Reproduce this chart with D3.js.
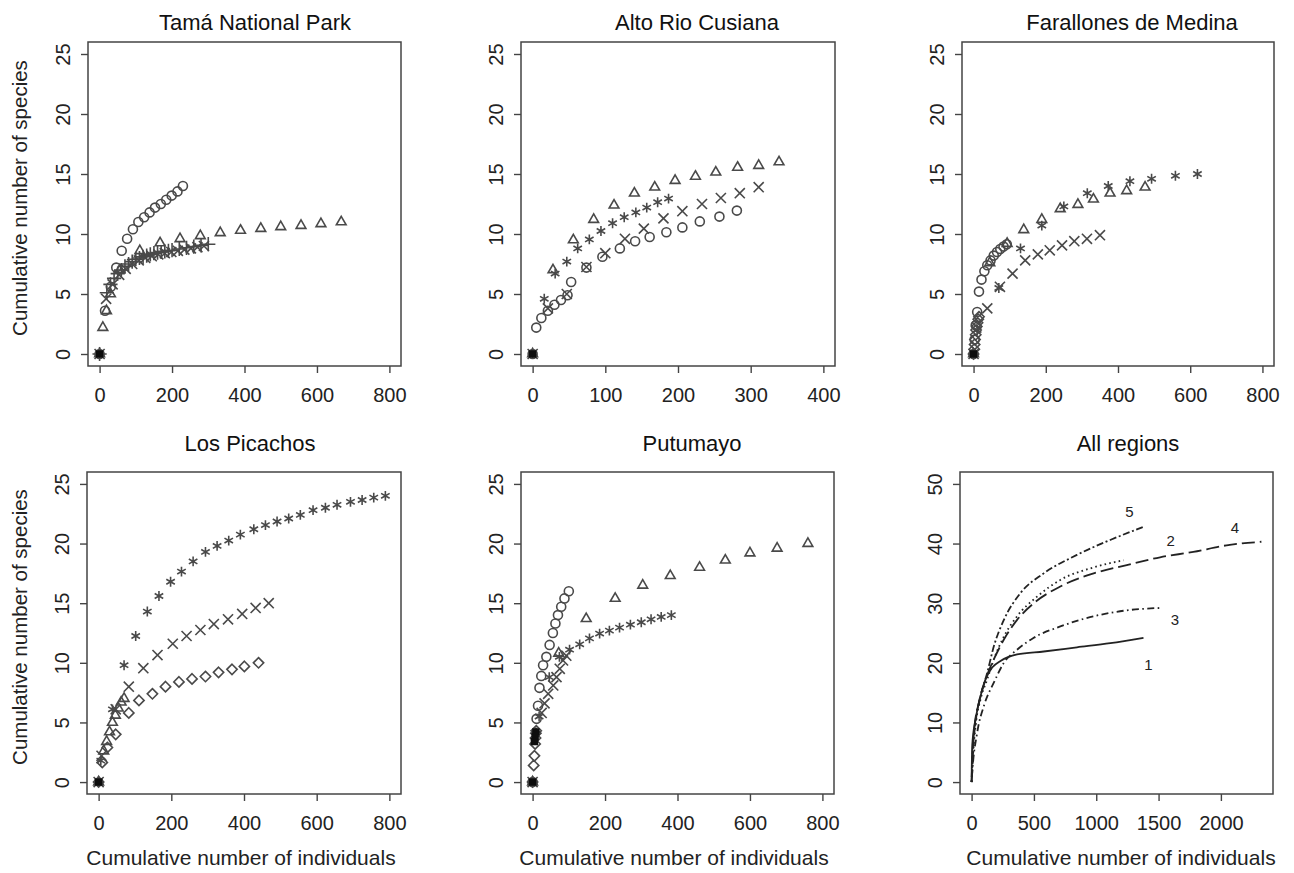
<!DOCTYPE html>
<html>
<head>
<meta charset="utf-8">
<script src="https://cdn.jsdelivr.net/npm/d3@7.9.0/dist/d3.min.js"></script>
<style>
  body { margin: 0; background: #fff; }
  svg { font-family: "Liberation Sans", Arial, Helvetica, sans-serif; }
</style>
</head>
<body>
<svg id="chart" width="1294" height="873"></svg>
<script>
// ---- data: [individuals, species] ----
const tamaCircles = [[0,0],[15,3.6],[31,5.6],[46,7.2],[61,8.6],[76,9.6],[92,10.4],[107,11.0],[123,11.4],[138,11.8],[153,12.2],[169,12.5],[184,12.85],[199,13.2],[215,13.55],[230,14]];
const tamaTriangles = [[0,0],[9,2.2],[19,3.6],[30,5.0],[56,7.0],[111,8.6],[167,9.25],[222,9.6],[278,9.85],[333,10.1],[389,10.3],[445,10.45],[500,10.6],[556,10.7],[611,10.85],[667,11.0]];
const tamaPlus = [[0,0],[20,5.1],[30,5.8],[40,6.3],[50,6.7],[60,7.0],[70,7.3],[80,7.5],[90,7.7],[100,7.9],[110,8.0],[120,8.1],[130,8.2],[140,8.3],[150,8.4],[160,8.45],[170,8.5],[180,8.55],[190,8.6],[200,8.65],[220,8.75],[240,8.85],[260,8.95],[280,9.05],[300,9.15]];
const tamaTimes = [[0,0],[18,4.6],[36,5.8],[54,6.6],[72,7.1],[90,7.5],[108,7.8],[126,8.0],[144,8.15],[162,8.3],[180,8.4],[198,8.5],[216,8.6],[234,8.7],[252,8.8],[270,8.9],[288,9.0]];

const altoTriangles = [[0,0],[28,7.0],[56,9.5],[84,11.2],[112,12.4],[140,13.4],[168,13.9],[196,14.45],[224,14.8],[252,15.15],[282,15.55],[311,15.7],[339,16.0]];
const altoAsterisks = [[0,0],[16,4.6],[31,6.7],[47,7.7],[62,8.8],[78,9.55],[94,10.25],[110,10.9],[126,11.4],[142,11.8],[157,12.2],[172,12.65],[187,12.95]];
const altoTimes = [[0,0],[21,3.8],[47,5.0],[74,7.25],[100,8.4],[127,9.6],[153,10.45],[180,11.3],[206,11.9],[233,12.5],[259,13.0],[285,13.4],[311,13.9]];
const altoCircles = [[0,0],[5,2.2],[12,3.0],[21,3.6],[30,4.1],[39,4.5],[48,4.9],[53,6.0],[74,7.2],[96,8.1],[120,8.8],[141,9.4],[161,9.75],[184,10.15],[206,10.55],[230,11.05],[257,11.45],[281,11.95]];

const farAsterisks = [[0,0],[10,2.0],[70,5.5],[130,8.8],[189,10.7],[250,12.3],[315,13.4],[373,14.0],[433,14.4],[493,14.6],[559,14.85],[620,15.0]];
const farTriangles = [[0,0],[45,7.6],[93,9.2],[139,10.35],[189,11.2],[240,12.1],[289,12.45],[332,12.9],[378,13.4],[424,13.6],[475,13.9]];
const farCircles = [[0,0],[3,1.2],[6,2.4],[10,3.5],[15,5.2],[22,6.2],[30,6.9],[38,7.4],[47,7.8],[56,8.2],[65,8.5],[74,8.75],[83,8.95],[92,9.15]];
const farTimes = [[0,0],[38,3.8],[73,5.6],[108,6.7],[143,7.8],[178,8.3],[211,8.64],[245,9.05],[279,9.4],[314,9.6],[350,9.9]];
const farDiamonds = [[0,0],[2,0.4],[3,0.8],[4,1.2],[6,1.6],[7,2.0],[9,2.3],[11,2.6],[13,2.9],[15,3.1]];

const picAsterisks = [[0,0],[6,1.8],[38,6.1],[70,9.8],[102,12.25],[134,14.3],[166,15.6],[198,16.8],[228,17.65],[260,18.5],[294,19.3],[326,19.8],[358,20.25],[390,20.75],[427,21.2],[459,21.55],[491,21.85],[523,22.1],[555,22.4],[590,22.8],[624,23.0],[656,23.25],[693,23.5],[725,23.65],[757,23.85],[789,24.0]];
const picTimes = [[0,0],[8,2.2],[47,6.1],[83,8.0],[123,9.55],[162,10.65],[204,11.6],[242,12.25],[280,12.75],[317,13.25],[356,13.65],[395,14.1],[432,14.6],[468,15.0]];
const picDiamonds = [[0,0],[10,1.65],[24,2.9],[47,4.0],[83,5.8],[111,6.85],[148,7.4],[184,8.0],[221,8.4],[257,8.65],[294,8.85],[330,9.2],[367,9.45],[401,9.7],[440,10.0]];
const picTriangles = [[0,0],[14,2.6],[22,3.4],[30,4.2],[38,5.0],[46,5.6],[54,6.2],[62,6.7],[70,7.0]];

const putTriangles = [[0,0],[72,10.8],[148,13.7],[228,15.4],[304,16.5],[380,17.3],[461,18.0],[532,18.6],[600,19.2],[675,19.6],[760,20.0]];
const putAsterisks = [[0,0],[18,5.5],[46,8.8],[74,10.5],[102,11.1],[130,11.55],[157,12.05],[185,12.45],[212,12.7],[240,12.95],[270,13.2],[300,13.4],[327,13.65],[355,13.85],[383,14.0]];
const putCircles = [[0,0],[11,5.3],[15,6.4],[19,7.9],[24,8.9],[29,9.8],[38,10.5],[47,11.5],[56,12.5],[63,13.3],[70,14.0],[79,14.7],[88,15.4],[100,16.0]];
const putTimes = [[0,0],[25,5.8],[33,6.6],[43,7.4],[57,8.1],[66,8.8],[75,9.5],[84,10.2],[93,10.6]];
const putDiamonds = [[0,0],[3,1.4],[5,2.2],[7,3.2],[8,3.7],[9,4.1],[10,4.3]];
const putSquares = [[5,3.4],[7,3.8],[9,4.2]];

const originPoint = [[0,0]];

const allTama = [[0,0],[5,6.1],[32,10.5],[59,13.3],[112,17.2],[165,19.2],[232,20.3],[365,21.4],[579,21.9],[845,22.6],[1112,23.3],[1379,24.2]];
const allAlto = [[0,0],[5,2.2],[32,9.4],[72,13.9],[125,17.2],[179,20.6],[259,24.4],[365,27.8],[525,31.1],[712,33.9],[979,36.0],[1219,37.2]];
const allFarallones = [[0,0],[5,1.6],[45,8.3],[99,12.8],[179,16.7],[259,20.0],[365,22.2],[499,24.2],[712,26.1],[979,27.8],[1245,28.8],[1512,29.2]];
const allPicachos = [[0,0],[5,1.7],[19,8.4],[59,13.4],[112,17.2],[179,20.6],[259,23.9],[365,27.2],[499,30.0],[712,32.8],[979,35.0],[1245,36.4],[1512,37.7],[1779,38.6],[2045,39.7],[2325,40.3]];
const allPutumayo = [[0,0],[5,3.3],[32,10.0],[72,14.4],[125,18.3],[179,22.8],[259,27.2],[392,31.7],[579,35.0],[845,38.1],[1112,40.6],[1379,42.8]];

const lineLabels = ["1", "2", "3", "4", "5"];
const lineLabelAt = [[1418,19.6],[1597,40.4],[1632,27.2],[2112,42.6],[1266,45.4]];

const titles = ["Tamá National Park", "Alto Rio Cusiana", "Farallones de Medina", "Los Picachos", "Putumayo", "All regions"];
const ticks400 = [0, 100, 200, 300, 400];
const ticks800 = [0, 200, 400, 600, 800];
const ticks2000 = [0, 500, 1000, 1500, 2000];
const ticks25 = [0, 5, 10, 15, 20, 25];
const ticks50 = [0, 10, 20, 30, 40, 50];

// ---- layout ----
const svg = d3.select("#chart");
svg.append("rect").attr("width", 1294).attr("height", 873).attr("fill", "#fff");
svg.append("defs").append("filter").attr("id", "soft")
  .append("feGaussianBlur").attr("stdDeviation", 0.55);

const symbols = {
  circle: d3.symbolCircle,
  triangle: d3.symbolTriangle2,
  plus: d3.symbolPlus,
  times: d3.symbolTimes,
  asterisk: d3.symbolAsterisk,
  diamond: d3.symbolDiamond2,
  square: d3.symbolSquare
};

const panels = [
  { box: [88, 42, 401, 366], xmax: 800, ymax: 25, xt: ticks800, yt: ticks25, titleX: 255, titleY: 30, ylab: true,
    series: [[tamaTriangles, "triangle"], [tamaCircles, "circle"], [tamaPlus, "plus"], [tamaTimes, "times"]] },
  { box: [521, 42, 835, 366], xmax: 400, ymax: 25, xt: ticks400, yt: ticks25, titleX: 697, titleY: 30,
    series: [[altoTriangles, "triangle"], [altoAsterisks, "asterisk"], [altoTimes, "times"], [altoCircles, "circle"]] },
  { box: [962, 42, 1274, 366], xmax: 800, ymax: 25, xt: ticks800, yt: ticks25, titleX: 1132, titleY: 30,
    series: [[farAsterisks, "asterisk"], [farTriangles, "triangle"], [farCircles, "circle"], [farTimes, "times"], [farDiamonds, "diamond"]] },
  { box: [87, 472, 401, 794], xmax: 800, ymax: 25, xt: ticks800, yt: ticks25, titleX: 250, titleY: 451, ylab: true, xlab: 241,
    series: [[picAsterisks, "asterisk"], [picTimes, "times"], [picDiamonds, "diamond"], [picTriangles, "triangle"]] },
  { box: [521, 472, 834, 794], xmax: 800, ymax: 25, xt: ticks800, yt: ticks25, titleX: 692, titleY: 451, xlab: 674,
    series: [[putTriangles, "triangle"], [putAsterisks, "asterisk"], [putCircles, "circle"], [putTimes, "times"], [putDiamonds, "diamond"]],
    filled: putSquares },
  { box: [960, 472, 1273, 794], xmax: 2325, ymax: 50, xt: ticks2000, yt: ticks50, titleX: 1128, titleY: 451, xlab: 1121,
    lines: [[allTama, null], [allAlto, "1.6,3.2"], [allFarallones, "1.6,3.4,7,3.4"], [allPicachos, "13,5"], [allPutumayo, "2,2.6,7,2.6"]] }
];

panels.forEach((p, i) => {
  const [left, top, right, bottom] = p.box;
  // R-style 4% padding around the axis limits
  const x = d3.scaleLinear().domain([-0.04 * p.xmax, 1.04 * p.xmax]).range([left, right]);
  const y = d3.scaleLinear().domain([-0.04 * p.ymax, 1.04 * p.ymax]).range([bottom, top]);
  const g = svg.append("g");

  const xa = g.append("g").attr("transform", `translate(0,${bottom})`)
    .call(d3.axisBottom(x).tickValues(p.xt).tickFormat(d3.format("d")).tickSize(7).tickPadding(15));
  const ya = g.append("g").attr("transform", `translate(${left},0)`)
    .call(d3.axisLeft(y).tickValues(p.yt).tickFormat(d3.format("d")).tickSize(7));
  [xa, ya].forEach(a => {
    a.select(".domain").remove();
    a.attr("font-size", 20).attr("font-family", "Liberation Sans, Arial, sans-serif");
    a.selectAll("line").attr("stroke", "#444").attr("stroke-width", 1.4);
    a.selectAll("text").attr("fill", "#222");
  });
  ya.selectAll("text")
    .attr("x", 0).attr("dy", 0)
    .attr("text-anchor", "middle")
    .attr("transform", "translate(-18,0) rotate(-90)");

  g.append("rect")
    .attr("x", left).attr("y", top)
    .attr("width", right - left).attr("height", bottom - top)
    .attr("fill", "none").attr("stroke", "#444").attr("stroke-width", 1.5);

  const marks = g.append("g").attr("filter", "url(#soft)");

  if (p.series) {
    p.series.forEach(([pts, shape]) => {
      marks.selectAll(null).data(pts).join("path")
        .attr("transform", d => `translate(${x(d[0])},${y(d[1])})`)
        .attr("d", d3.symbol(symbols[shape], shape === "circle" ? 64 : 68))
        .attr("fill", "none")
        .attr("stroke", "#4a4a4a")
        .attr("stroke-width", 1.6);
    });
    marks.selectAll(null).data(originPoint.concat(p.filled || [])).join("path")
      .attr("transform", d => `translate(${x(d[0])},${y(d[1])})`)
      .attr("d", d3.symbol(symbols.square, 56))
      .attr("fill", "#111");
  }

  if (p.lines) {
    const line = d3.line().x(d => x(d[0])).y(d => y(d[1])).curve(d3.curveMonotoneX);
    p.lines.forEach(([pts, dash]) => {
      marks.append("path").datum(pts)
        .attr("d", line)
        .attr("fill", "none")
        .attr("stroke", "#222")
        .attr("stroke-width", 1.8)
        .attr("stroke-dasharray", dash);
    });
    g.selectAll(null).data(lineLabels).join("text")
      .attr("x", (d, k) => x(lineLabelAt[k][0]))
      .attr("y", (d, k) => y(lineLabelAt[k][1]))
      .attr("text-anchor", "middle")
      .attr("dy", "0.35em")
      .attr("font-size", 15)
      .attr("fill", "#222")
      .text(d => d);
  }

  g.append("text")
    .attr("x", p.titleX).attr("y", p.titleY)
    .attr("text-anchor", "middle")
    .attr("font-size", 22)
    .attr("fill", "#111")
    .text(titles[i]);

  if (p.ylab) {
    g.append("text")
      .attr("transform", `translate(27,${(top + bottom) / 2 - 6}) rotate(-90)`)
      .attr("text-anchor", "middle")
      .attr("font-size", 20.5)
      .attr("fill", "#222")
      .text("Cumulative number of species");
  }
  if (p.xlab) {
    g.append("text")
      .attr("x", p.xlab).attr("y", 865)
      .attr("text-anchor", "middle")
      .attr("font-size", 21)
      .attr("fill", "#222")
      .text("Cumulative number of individuals");
  }
});
</script>
</body>
</html>
